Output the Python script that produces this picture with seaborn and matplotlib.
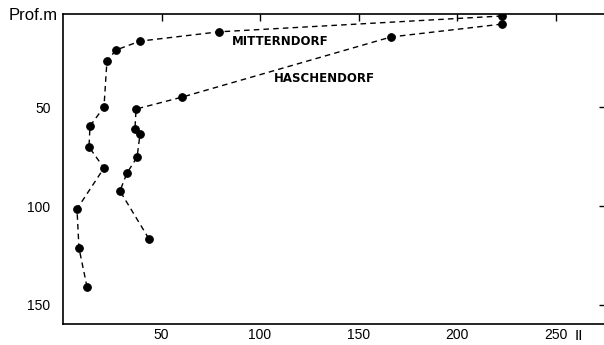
import matplotlib
matplotlib.use("Agg")
import matplotlib.pyplot as plt
import seaborn as sns
import pandas as pd

# Conductivity-type profile values against depth (m) for two sites
mitterndorf_value = [222.8, 79.2, 39.1, 26.9, 22.3, 20.8, 13.7, 13.2, 20.8, 7.1, 8.1, 12.2]
mitterndorf_depth = [4, 12, 16.7, 21.2, 26.8, 50, 59.6, 70.2, 80.8, 101.5, 121.2, 140.9]

haschendorf_value = [222.8, 166.5, 60.4, 37.1, 36.5, 39.1, 37.6, 32.5, 28.9, 43.7]
haschendorf_depth = [8.1, 14.6, 45, 51, 61.1, 63.6, 75.3, 83.3, 92.4, 116.7]

x_ticks = [50, 100, 150, 200, 250]
y_ticks = [50, 100, 150]
site_names = ["MITTERNDORF", "HASCHENDORF"]

df = pd.concat([
    pd.DataFrame({"value": mitterndorf_value, "depth": mitterndorf_depth, "site": site_names[0]}),
    pd.DataFrame({"value": haschendorf_value, "depth": haschendorf_depth, "site": site_names[1]}),
])

sns.set_theme(style="white")
plt.rcParams["font.family"] = ["Liberation Sans", "DejaVu Sans"]

fig = plt.figure(figsize=(6.04, 3.45), dpi=100)
ax = fig.add_axes([63 / 604, 1 - 324 / 345, (606 - 63) / 604, (324 - 14) / 345])

sns.lineplot(
    data=df, x="value", y="depth", units="site", estimator=None, sort=False,
    color="black", linestyle=(0, (4, 3)), linewidth=1.0,
    marker="o", markersize=5.5, markeredgecolor="black", markerfacecolor="black",
    ax=ax, legend=False,
)

ax.set_xlim(0, 275.6)
ax.set_ylim(159.6, 3.0)
ax.set_xticks(x_ticks)
ax.set_yticks(y_ticks)
ax.set_xlabel("")
ax.set_ylabel("")

for s in ax.spines.values():
    s.set_color("black")
    s.set_linewidth(1.2)

ax.tick_params(axis="both", direction="in", length=5, width=1, color="black",
               top=True, right=True, labelsize=10, labelcolor="black")
ax.tick_params(axis="x", pad=3)
ax.tick_params(axis="y", pad=9)

ax.text(85.8, 16.7, site_names[0], fontsize=8.5, fontweight="bold",
        family=["DejaVu Sans"], ha="left", va="center", color="black")
ax.text(107, 35.4, site_names[1], fontsize=8.5, fontweight="bold",
        family=["DejaVu Sans"], ha="left", va="center", color="black")

fig.text(58 / 604, 1 - 15 / 345, "Prof.m", fontsize=12,
         family=["Liberation Sans Narrow", "Liberation Sans", "DejaVu Sans"],
         ha="right", va="center", color="black")
fig.text(579 / 604, 1 - 336 / 345, "II", fontsize=11,
         ha="center", va="center", color="black")

fig.savefig("out.png", dpi=100)
